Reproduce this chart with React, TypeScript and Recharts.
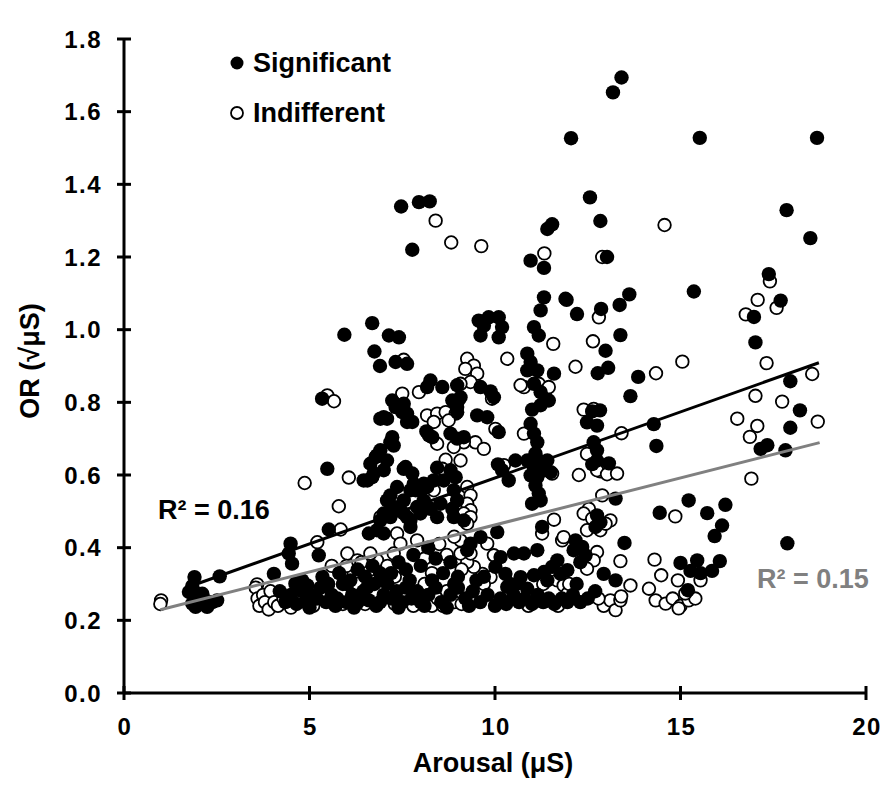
import { Scatter, ScatterChart, XAxis, YAxis } from "recharts";

// [arousal (µS), OR (√µS)]
const significantHigh = [
  [13.41, 1.694], [13.18, 1.653], [12.05, 1.527], [15.52, 1.528], [18.68, 1.528],
  [12.56, 1.364], [12.84, 1.299], [13.02, 1.2], [17.86, 1.329], [18.5, 1.252],
  [15.36, 1.105], [11.93, 1.082], [12.21, 1.043], [12.86, 1.057], [13.36, 1.068],
  [13.62, 1.097], [17.38, 1.153], [17.7, 1.08], [16.98, 1.035], [17.02, 0.965],
  [13.38, 0.985], [12.98, 0.942], [12.77, 0.88], [13.05, 0.895], [13.86, 0.87],
  [13.65, 0.817], [12.62, 0.775], [12.83, 0.778], [12.48, 0.745], [12.75, 0.736],
  [14.28, 0.74], [14.35, 0.68], [12.66, 0.69], [12.75, 0.668], [12.75, 0.64],
  [13.07, 0.632], [12.62, 0.63], [17.96, 0.858], [18.22, 0.778], [17.96, 0.73],
  [17.16, 0.672], [17.34, 0.682], [17.83, 0.668], [17.88, 0.412],
  [7.47, 1.339], [7.95, 1.351], [8.24, 1.353], [7.77, 1.22], [11.54, 1.29],
  [11.41, 1.277], [10.96, 1.19], [11.32, 1.17],
];

const significantMid = [
  [6.69, 1.018], [5.94, 0.986], [6.75, 0.94], [6.9, 0.9], [7.14, 0.984],
  [7.41, 0.979], [7.32, 0.911], [7.63, 0.906], [5.34, 0.81], [6.91, 0.755],
  [5.48, 0.617], [6.56, 0.585], [6.73, 0.604], [5.52, 0.45], [6.6, 0.439],
  [4.49, 0.411], [4.44, 0.384], [4.53, 0.356], [5.25, 0.379], [4.04, 0.328],
  [2.58, 0.321], [8.26, 0.86], [8.58, 0.842], [8.98, 0.847], [9.07, 0.814],
  [9.61, 0.842], [9.88, 0.83], [9.97, 0.814], [9.56, 1.025], [9.7, 1.011],
  [9.83, 1.034], [10.1, 1.034], [10.19, 1.007], [10.1, 0.979], [9.61, 0.984],
  [11.32, 1.089], [11.23, 1.053], [11.05, 1.007], [11.18, 0.984], [10.87, 0.934],
  [10.96, 0.911], [11.14, 0.888], [10.87, 0.888], [11.05, 0.851], [11.23, 0.828],
  [11.45, 0.805], [11.23, 0.792], [11.0, 0.78], [11.9, 1.085], [11.59, 0.879],
  [10.1, 0.718], [7.0, 0.759], [7.23, 0.704], [7.27, 0.681], [6.91, 0.668],
  [6.78, 0.649], [7.09, 0.64], [6.64, 0.631], [7.0, 0.613], [6.69, 0.594],
  [7.59, 0.622], [7.81, 0.576], [7.99, 0.558], [7.72, 0.558], [7.54, 0.53],
  [7.9, 0.512], [7.36, 0.503], [7.63, 0.484], [8.15, 0.72], [8.31, 0.704],
  [8.8, 0.714], [8.98, 0.7], [9.16, 0.704], [8.85, 0.805], [8.98, 0.787],
  [8.98, 0.773], [9.52, 0.764], [9.79, 0.759], [6.46, 0.585], [6.82, 0.654],
  [7.18, 0.69], [7.09, 0.755], [7.23, 0.805], [7.32, 0.787], [7.54, 0.796],
  [7.5, 0.773], [7.63, 0.769], [7.63, 0.746], [7.77, 0.746], [7.54, 0.617],
  [7.77, 0.604], [8.17, 0.842], [8.22, 0.709], [7.36, 0.567], [7.18, 0.544],
  [7.09, 0.53], [7.27, 0.512], [7.54, 0.494], [7.18, 0.484], [7.0, 0.494],
  [6.91, 0.475], [6.82, 0.448], [7.0, 0.439], [7.72, 0.475], [7.72, 0.457],
  [7.99, 0.494], [8.08, 0.53], [7.86, 0.558], [8.17, 0.567],
  [8.44, 0.62], [8.8, 0.613], [8.94, 0.594], [8.62, 0.585], [8.35, 0.585],
  [8.08, 0.576], [8.89, 0.558], [8.98, 0.53], [8.85, 0.507], [8.53, 0.521],
  [8.26, 0.507], [8.44, 0.484], [8.89, 0.484], [9.16, 0.475],
  [10.08, 0.629], [10.19, 0.613], [10.37, 0.585], [10.55, 0.64],
  [10.96, 0.741], [11.05, 0.714], [11.14, 0.69], [11.09, 0.659], [11.18, 0.64],
  [11.05, 0.617], [11.14, 0.594], [10.96, 0.599], [11.09, 0.571], [11.18, 0.549],
  [11.0, 0.521], [11.23, 0.53], [10.87, 0.64], [11.41, 0.64], [11.32, 0.613],
  [11.5, 0.608],
];

const significantLow = [
  [12.75, 0.489], [12.84, 0.47], [12.71, 0.457], [11.27, 0.457], [10.06, 0.443],
  [12.17, 0.42], [12.35, 0.402], [12.12, 0.393], [12.44, 0.379], [12.3, 0.36],
  [11.68, 0.365], [11.54, 0.347], [11.95, 0.338], [11.77, 0.328], [11.14, 0.393],
  [10.78, 0.384], [10.51, 0.384], [10.15, 0.374], [10.01, 0.347], [10.28, 0.328],
  [10.69, 0.319], [11.05, 0.324], [11.32, 0.333], [11.41, 0.31], [10.6, 0.301],
  [10.33, 0.292], [10.87, 0.287], [9.61, 0.429], [9.34, 0.411], [9.25, 0.393],
  [12.93, 0.328], [13.25, 0.535], [15.22, 0.53], [14.44, 0.496], [15.72, 0.495],
  [16.21, 0.518], [16.12, 0.461], [15.92, 0.432], [13.49, 0.413], [15.0, 0.358],
  [15.45, 0.365], [15.27, 0.336], [15.54, 0.33], [15.85, 0.336], [16.06, 0.363],
  [13.25, 0.31], [15.2, 0.283],
  [1.9, 0.319], [1.84, 0.294], [1.75, 0.278], [1.93, 0.275], [2.11, 0.273],
  [2.2, 0.255], [2.38, 0.25], [2.51, 0.255], [2.06, 0.25], [1.84, 0.246],
  [1.93, 0.237], [2.24, 0.237], [4.62, 0.301], [4.8, 0.31], [4.94, 0.296],
  [5.5, 0.3], [5.8, 0.33], [6.1, 0.31], [6.3, 0.34], [6.5, 0.32], [6.7, 0.35],
  [6.9, 0.33], [7.2, 0.33], [7.4, 0.36], [7.6, 0.34], [7.8, 0.38], [8.0, 0.35],
  [8.2, 0.4], [8.4, 0.37], [8.6, 0.33], [8.8, 0.36], [9.0, 0.32],
  [4.2, 0.28], [4.35, 0.25], [4.5, 0.27], [4.65, 0.245], [4.8, 0.28], [4.9, 0.25],
  [5.05, 0.27], [5.2, 0.26], [5.3, 0.29], [5.45, 0.25], [5.6, 0.27], [5.75, 0.26],
  [5.9, 0.3], [6.0, 0.25], [6.15, 0.27], [6.3, 0.25], [6.45, 0.28], [6.6, 0.255],
  [6.75, 0.3], [6.9, 0.25], [7.0, 0.27], [7.1, 0.3], [7.2, 0.26], [7.35, 0.28],
  [7.5, 0.25], [7.6, 0.29], [7.75, 0.26], [7.9, 0.28], [8.0, 0.25], [8.2, 0.27],
  [8.4, 0.29], [8.55, 0.25], [8.8, 0.27], [9.0, 0.29], [9.2, 0.26], [9.4, 0.28],
  [9.6, 0.25], [9.8, 0.27], [10.0, 0.24], [10.15, 0.26], [10.3, 0.245], [10.5, 0.27],
  [10.65, 0.25], [10.8, 0.26], [11.0, 0.245], [11.15, 0.27], [11.3, 0.25],
  [11.45, 0.26], [11.6, 0.245], [11.8, 0.26], [11.95, 0.25], [12.1, 0.27],
  [12.3, 0.25], [12.5, 0.26], [12.7, 0.28], [12.2, 0.3], [10.4, 0.3], [9.5, 0.31],
  [5.0, 0.235], [5.7, 0.24], [6.2, 0.235], [6.8, 0.24], [7.4, 0.235], [8.1, 0.24],
  [8.7, 0.235], [9.3, 0.24], [5.35, 0.32], [6.0, 0.3], [6.55, 0.29], [7.0, 0.31],
  [7.7, 0.31], [8.3, 0.31], [8.9, 0.3], [9.7, 0.32],
];

const indifferentHigh = [
  [8.4, 1.3], [8.82, 1.24], [9.63, 1.23], [11.33, 1.21], [12.89, 1.2],
  [14.57, 1.288], [12.8, 1.034], [17.41, 1.133], [17.08, 1.082], [17.59, 1.06],
  [16.76, 1.042], [17.32, 0.908], [12.64, 0.968], [12.17, 0.898], [15.05, 0.912],
  [14.34, 0.88], [12.39, 0.78], [12.66, 0.782], [13.41, 0.715], [12.48, 0.658],
  [12.84, 0.61], [12.75, 0.613], [13.02, 0.602], [12.26, 0.6], [13.29, 0.604],
  [17.02, 0.818], [17.74, 0.802], [18.55, 0.878], [18.7, 0.747], [16.53, 0.755],
  [17.07, 0.735], [16.87, 0.705], [16.91, 0.59],
];

const indifferentMid = [
  [5.48, 0.819], [5.66, 0.803], [4.87, 0.578], [6.06, 0.593], [5.79, 0.514],
  [5.84, 0.45], [5.21, 0.415], [6.02, 0.384], [6.91, 0.484], [6.19, 0.328],
  [6.29, 0.365], [7.5, 0.824], [7.95, 0.828], [7.36, 0.439], [7.45, 0.411],
  [7.27, 0.384], [6.82, 0.365], [6.64, 0.384], [7.54, 0.917], [9.25, 0.92],
  [9.43, 0.901], [9.2, 0.892], [9.52, 0.879], [9.34, 0.856], [9.07, 0.851],
  [10.33, 0.92], [11.57, 0.961], [10.78, 0.842], [11.18, 0.851], [11.36, 0.833],
  [10.01, 0.727], [10.78, 0.714], [11.81, 0.42], [9.92, 0.81], [9.02, 0.807],
  [8.17, 0.764], [8.44, 0.769], [8.67, 0.773], [8.94, 0.769], [8.35, 0.746],
  [8.75, 0.75], [8.44, 0.686], [9.47, 0.69], [9.7, 0.672], [9.16, 0.69],
  [8.89, 0.677], [8.67, 0.642], [9.07, 0.64], [8.58, 0.617], [8.35, 0.558],
  [9.25, 0.567], [9.34, 0.544], [9.25, 0.521], [9.34, 0.503], [9.16, 0.494],
  [9.34, 0.484], [9.25, 0.466], [10.24, 0.627], [11.45, 0.842], [10.69, 0.847],
  [11.54, 0.604],
];

const indifferentLow = [
  [12.89, 0.544], [12.53, 0.507], [12.39, 0.494], [12.62, 0.48], [13.11, 0.475],
  [12.84, 0.448], [12.98, 0.466], [12.48, 0.448], [11.59, 0.477], [11.27, 0.439],
  [11.85, 0.429], [12.75, 0.388], [12.66, 0.365], [12.48, 0.342], [9.97, 0.379],
  [9.88, 0.319], [9.66, 0.328], [9.43, 0.347], [9.25, 0.36], [9.34, 0.384],
  [9.07, 0.42], [9.07, 0.384], [9.79, 0.411], [11.68, 0.31], [11.85, 0.296],
  [11.95, 0.273], [14.86, 0.486], [13.38, 0.363], [14.3, 0.367], [14.48, 0.324],
  [14.93, 0.31], [15.54, 0.31], [13.65, 0.296], [14.15, 0.287],
  [14.33, 0.255], [14.6, 0.246], [14.79, 0.26], [15.0, 0.24], [15.22, 0.255],
  [15.4, 0.26], [15.13, 0.274], [14.95, 0.233], [12.93, 0.24], [13.11, 0.255],
  [13.25, 0.228], [13.38, 0.255], [12.79, 0.26], [13.4, 0.266],
  [1.0, 0.255], [0.98, 0.245], [3.59, 0.299],
  [3.55, 0.29], [3.6, 0.26], [3.65, 0.24], [3.75, 0.27], [3.8, 0.25], [3.9, 0.23],
  [3.95, 0.28], [4.05, 0.25], [4.15, 0.24], [4.3, 0.26], [4.5, 0.235],
  [4.7, 0.3], [5.1, 0.24], [5.5, 0.3], [5.9, 0.245], [6.3, 0.3], [6.5, 0.245],
  [7.3, 0.245], [7.8, 0.24], [8.1, 0.3], [8.3, 0.24], [8.45, 0.26], [8.6, 0.24],
  [8.7, 0.28], [8.9, 0.25], [9.1, 0.245], [9.7, 0.3], [10.2, 0.25], [10.9, 0.24],
  [11.3, 0.3], [11.7, 0.24], [12.0, 0.3],
  [5.6, 0.35], [6.0, 0.35], [6.4, 0.36], [6.8, 0.31], [7.1, 0.35], [7.3, 0.32],
  [7.9, 0.42], [8.1, 0.37], [8.3, 0.33], [8.5, 0.41], [8.7, 0.38], [8.9, 0.43],
  [9.1, 0.34],
];

// linear trend line end points, as drawn in the reference
const significantTrend = [[1.9, 0.298], [18.73, 0.909]];
const indifferentTrend = [[0.98, 0.229], [18.75, 0.689]];

const xTicks = [0, 5, 10, 15, 20];
const yTicks = [0, 0.2, 0.4, 0.6, 0.8, 1, 1.2, 1.4, 1.6, 1.8];

const toPoints = (rows: number[][]) => rows.map(([x, y]) => ({ x, y }));

const significant = toPoints([...significantHigh, ...significantMid, ...significantLow]);
const indifferent = toPoints([...indifferentHigh, ...indifferentMid, ...indifferentLow]);

const FONT = "'Liberation Sans', Arial, sans-serif";
const GREY = "#808080";

const FilledDot = (props: any) => <circle cx={props.cx} cy={props.cy} r={7.2} fill="#000" />;
const OpenDot = (props: any) => (
  <circle cx={props.cx} cy={props.cy} r={6.3} fill="#fff" stroke="#000" strokeWidth={1.8} />
);
const NoDot = () => <g />;

const YTick = (props: any) => {
  const { x, y, payload } = props;
  return (
    <g>
      <line x1={x - 7} x2={x + 7} y1={y} y2={y} stroke="#000" strokeWidth={3} />
      <text x={x - 22} y={y} textAnchor="end" dominantBaseline="central" letterSpacing={1.5}
        fontSize={24} fontWeight="bold" fontFamily={FONT} fill="#000">
        {payload.value.toFixed(1)}
      </text>
    </g>
  );
};

const XTick = (props: any) => {
  const { x, y, payload } = props;
  return (
    <g>
      <line x1={x} x2={x} y1={y - 7} y2={y + 7} stroke="#000" strokeWidth={3} />
      <text x={x + 1} y={y + 33} textAnchor="middle" dominantBaseline="central" letterSpacing={1.5}
        fontSize={24} fontWeight="bold" fontFamily={FONT} fill="#000">
        {payload.value}
      </text>
    </g>
  );
};

export default function App() {
  const W = 876;
  const H = 774;
  const textStyle = { fontFamily: FONT, fontWeight: "bold" as const };

  return (
    <div style={{ position: "relative", width: W, height: H }}>
      <ScatterChart width={W} height={H} margin={{ top: 31, right: 18, bottom: 29, left: 56 }}>
        <XAxis
          type="number"
          dataKey="x"
          domain={[0, 20]}
          ticks={xTicks}
          height={60}
          tickSize={0}
          tickMargin={0}
          tickLine={false}
          axisLine={{ stroke: "#000", strokeWidth: 3 }}
          tick={<XTick />}
        />
        <YAxis
          type="number"
          dataKey="y"
          domain={[0, 1.8]}
          ticks={yTicks}
          width={60}
          tickSize={0}
          tickMargin={0}
          tickLine={false}
          axisLine={{ stroke: "#000", strokeWidth: 3 }}
          tick={<YTick />}
        />
        <Scatter name="Indifferent" data={indifferent} shape={<OpenDot />} isAnimationActive={false} />
        <Scatter name="Significant" data={significant} shape={<FilledDot />} isAnimationActive={false} />
        <Scatter
          data={toPoints(significantTrend)}
          fill="#000"
          line={{ stroke: "#000", strokeWidth: 3 }}
          shape={<NoDot />}
          isAnimationActive={false}
        />
        <Scatter
          data={toPoints(indifferentTrend)}
          fill={GREY}
          line={{ stroke: GREY, strokeWidth: 3 }}
          shape={<NoDot />}
          isAnimationActive={false}
        />
      </ScatterChart>

      <svg width={W} height={H} style={{ position: "absolute", left: 0, top: 0, pointerEvents: "none" }}>
        <circle cx={229} cy={55} r={6.5} fill="#000" />
        <text x={245} y={55} dominantBaseline="central" fontSize={27} {...textStyle}>Significant</text>
        <circle cx={229} cy={105} r={6} fill="#fff" stroke="#000" strokeWidth={1.8} />
        <text x={245} y={105} dominantBaseline="central" fontSize={27} {...textStyle}>Indifferent</text>

        <text x={150} y={502} dominantBaseline="central" fontSize={27} {...textStyle}>R² = 0.16</text>
        <text x={749} y={571} dominantBaseline="central" fontSize={27} fill={GREY} {...textStyle}>R² = 0.15</text>

        <text x={485} y={755} textAnchor="middle" dominantBaseline="central" fontSize={27} {...textStyle}>
          Arousal (μS)
        </text>
        <text
          x={22}
          y={353}
          textAnchor="middle"
          dominantBaseline="central"
          fontSize={27}
          transform="rotate(-90 22 353)"
          {...textStyle}
        >
          OR (√μS)
        </text>
      </svg>
    </div>
  );
}
